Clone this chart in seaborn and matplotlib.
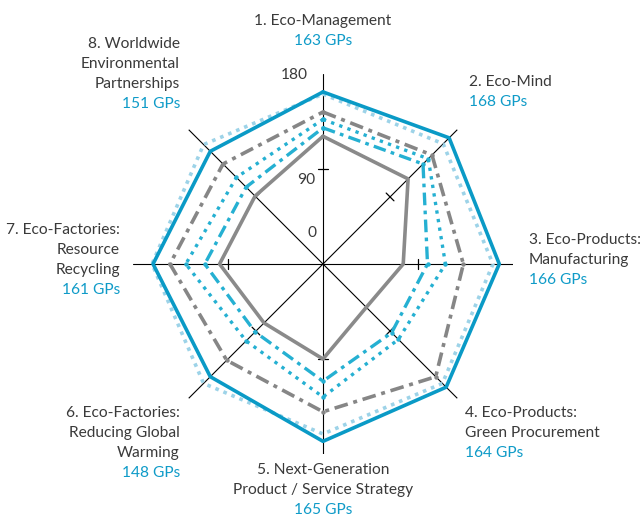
import numpy as np
import pandas as pd
import matplotlib.pyplot as plt
import seaborn as sns

# axis names (one entry per spoke, clockwise from top) and the GP counts shown under them
categories = [
    ["1. Eco-Management"],
    ["2. Eco-Mind"],
    ["3. Eco-Products:", "Manufacturing"],
    ["4. Eco-Products:", "Green Procurement"],
    ["5. Next-Generation", "Product / Service Strategy"],
    ["6. Eco-Factories:", "Reducing Global", "Warming"],
    ["7. Eco-Factories:", "Resource", "Recycling"],
    ["8. Worldwide", "Environmental", "Partnerships"],
]
gp_counts = [163, 168, 166, 164, 165, 148, 161, 151]

gray_solid = [121, 114, 76, 58, 90, 79, 98, 91]
blue_dashdot = [129, 134, 99, 92, 111, 91, 112, 103]
blue_dotted = [137, 141, 116, 101, 126, 103, 130, 116]
gray_dashdot = [144, 146, 133, 151, 140, 129, 145, 134]
target_dotted = [161, 161, 161, 160, 161, 160, 162, 160]
blue_solid = [163, 169, 167, 165, 168, 151, 161, 151]

r_tick_labels = ["0", "90", "180"]

sns.set_style("white")
plt.rcParams['font.family'] = ['Lato', 'DejaVu Sans']

W, H = 640, 521
TEXT = "#3a3a3a"
BLUE = "#0f9bc8"
FS = 11.2
fig = plt.figure(figsize=(W / 100, H / 100), dpi=100)

# polar axes centred on (323, 264) px with radius 190 px for r = 180
cx, cy, R = 323, 264, 190
ax = fig.add_axes([(cx - R) / W, (H - cy - R) / H, 2 * R / W, 2 * R / H], projection='polar')
ax.set_theta_zero_location('N')
ax.set_theta_direction(-1)
ax.grid(False)
ax.spines['polar'].set_visible(False)
ax.patch.set_alpha(0)

n = len(categories)
angles = np.arange(n) * 2 * np.pi / n

# spokes and the small tick at 90
for a in angles:
    ax.plot([a, a], [0, 180], color='black', lw=0.8, zorder=1)
    d = 5.5 / 95
    ax.plot([a - d, a + d], [90, 90], color='black', lw=0.9, zorder=1)

series = [
    ("target", target_dotted, "#9dd3e8", 2.6, (0, (1, 1.4)), None),
    ("result", blue_solid, "#0a9ac6", 2.6, '-', None),
    ("gray dash-dot", gray_dashdot, "#868686", 2.6, (0, (3.8, 1.6, 1.1, 1.6)), 'o'),
    ("blue dotted", blue_dotted, "#25b0d2", 2.4, (0, (1, 1.6)), 'o'),
    ("blue dash-dot", blue_dashdot, "#25b0d2", 2.4, (0, (3.8, 1.6, 1.1, 1.6)), 'o'),
    ("gray solid", gray_solid, "#8a8a8a", 2.6, '-', None),
]

for name, vals, color, lw, ls, mk in series:
    df = pd.DataFrame({"theta": np.append(angles, 2 * np.pi), "r": vals + vals[:1]})
    sns.lineplot(data=df, x="theta", y="r", ax=ax, sort=False, estimator=None,
                 color=color, lw=lw, linestyle=ls, marker=mk, markersize=3.2,
                 markeredgewidth=0, clip_on=False, zorder=3)
ax.set_xlabel("")
ax.set_ylabel("")
ax.set_xticks([])
ax.set_yticks([])
ax.set_ylim(0, 180)

# radial scale labels beside the top spoke
for lab, (x, y) in zip(r_tick_labels, [(317, 233), (315, 180), (308, 75)]):
    fig.text(x / W, 1 - y / H, lab, ha='right', va='center', fontsize=FS, color=TEXT)

# category labels
label_pos = [(323, 21, 'center'), (469, 82, 'left'), (529, 240, 'left'), (465, 413, 'left'),
             (323, 470, 'center'), (180, 413, 'right'), (120, 230, 'right'), (180, 44, 'right')]
for lines, gp, (x, y, ha) in zip(categories, gp_counts, label_pos):
    for k, line in enumerate(lines):
        fig.text(x / W, 1 - (y + 20 * k) / H, line, ha=ha, va='center', fontsize=FS, color=TEXT)
    fig.text(x / W, 1 - (y + 20 * len(lines)) / H, f"{gp} GPs", ha=ha, va='center',
             fontsize=FS, color=BLUE)

fig.savefig("out.png", dpi=100)
